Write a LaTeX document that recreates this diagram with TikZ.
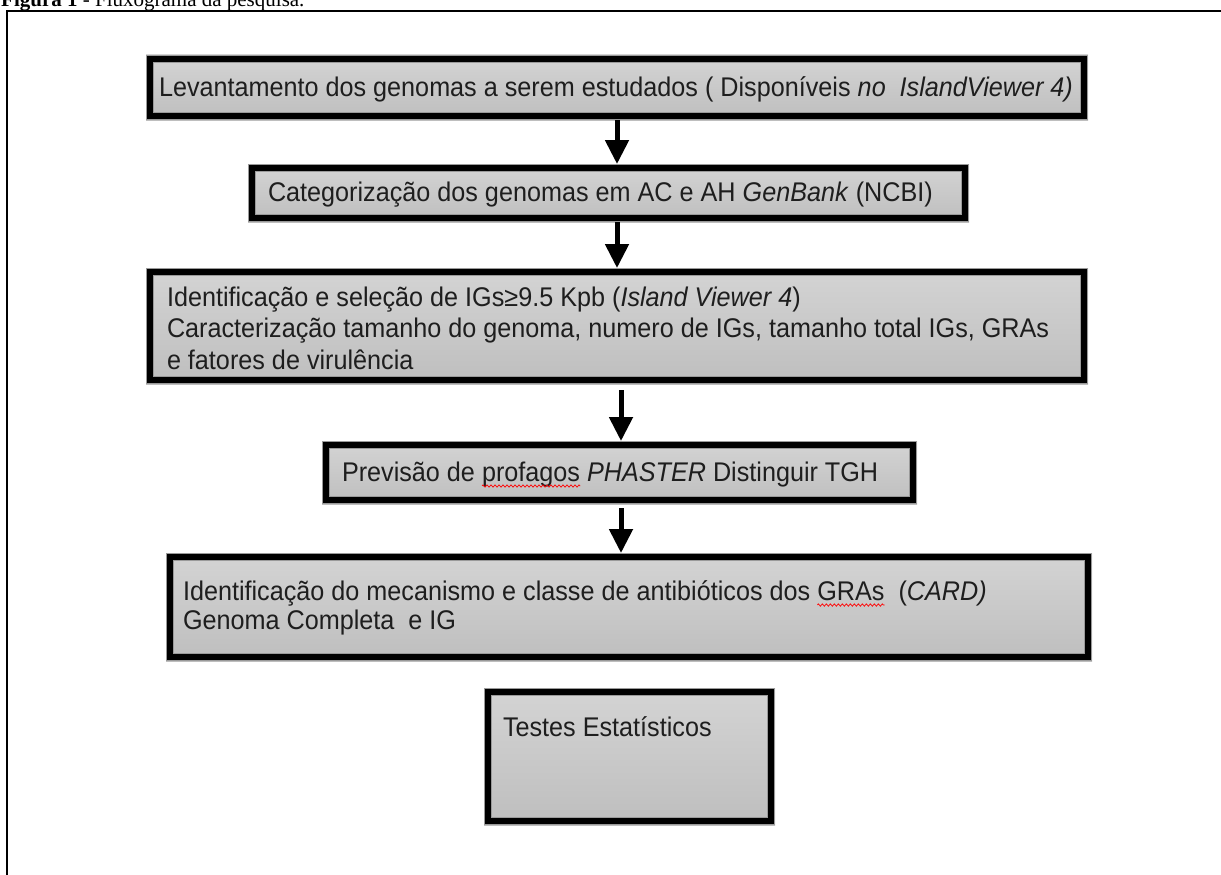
\documentclass[tikz,border=0pt]{standalone}
\usepackage{fontspec}
\setmainfont{Liberation Sans}
\newfontfamily\boxfont[FakeStretch=0.933]{Liberation Sans}
\newfontfamily\titlefont{Liberation Serif}
\usetikzlibrary{arrows.meta,calc,decorations.pathmorphing}
\definecolor{boxtop}{HTML}{D4D4D4}
\definecolor{boxbot}{HTML}{BEBEBE}
\definecolor{txtc}{HTML}{1E1E1E}
\definecolor{edgegray}{HTML}{9A9A9A}
\tikzset{
  boxfill/.style={inner sep=0pt, outer sep=0pt, anchor=north west, top color=boxtop, bottom color=boxbot},
  bord/.style={draw=edgegray, double=black, double distance=6.6pt, line width=0.7pt},
  txt/.style={anchor=base west, inner sep=0pt, outer sep=0pt, text=txtc, font=\boxfont\fontsize{27}{31.5}\selectfont},
  arr/.style={line width=5pt, draw=black, -{Triangle[width=23pt,length=24pt]}},
  frame/.style={line width=2pt, draw=black},
  spell/.style={draw=red, line width=0.7pt, decorate, decoration={zigzag, amplitude=1.2pt, segment length=4pt}}
}
\begin{document}
\begin{tikzpicture}[x=1pt,y=-1pt]
\useasboundingbox (0,0) rectangle (1221,875);
% title (cut at the top of the page)
\node[anchor=base west, inner sep=0pt] (title) at (1,7) {\titlefont\fontsize{21}{25}\selectfont\textbf{Figura 1} - Fluxograma da pesquisa.};
% frame
\coordinate (fr1) at (7,877);
\coordinate (fr2) at (7,11);
\coordinate (fr3) at (1223,11);
\draw[frame] (fr1) -- (fr2) -- (fr3);
% boxes
\node[boxfill, minimum width=942pt, minimum height=65pt] (b1) at (146,55) {};
\node[boxfill, minimum width=721pt, minimum height=58pt] (b2) at (248,164) {};
\node[boxfill, minimum width=942pt, minimum height=116pt] (b3) at (146,268) {};
\node[boxfill, minimum width=595pt, minimum height=63pt] (b4) at (322,441) {};
\node[boxfill, minimum width=926pt, minimum height=108pt] (b5) at (166,553) {};
\node[boxfill, minimum width=291pt, minimum height=137pt] (b6) at (484,688) {};
% texts
\node[txt] (t1) at (159,96) {Levantamento dos genomas a serem estudados ( Disponíveis \textit{no\ \ IslandViewer 4)}};
\node[txt] (t2) at (268,201) {Categorização dos genomas em AC e AH \textit{GenBank} (NCBI)};
\node[txt] (t3a) at (167,306) {Identificação e seleção de IGs≥9.5 Kpb (\textit{Island Viewer 4})};
\node[txt] (t3b) at (167,337) {Caracterização tamanho do genoma, numero de IGs, tamanho total IGs, GRAs};
\node[txt] (t3c) at (167,369) {e fatores de virulência};
\node[txt] (t4a) at (342,481) {Previsão de};
\node[txt] (t4b) at ($(t4a.base east)+(7,0)$) {profagos};
\node[txt] (t4c) at ($(t4b.base east)+(7,0)$) {\textit{PHASTER} Distinguir TGH};
\node[txt] (t5a) at (183,600) {Identificação do mecanismo e classe de antibióticos dos};
\node[txt] (t5b) at ($(t5a.base east)+(7,0)$) {GRAs};
\node[txt] (t5c) at ($(t5b.base east)+(14,0)$) {(\textit{CARD)}};
\node[txt] (t5d) at (183,629) {Genoma Completa\ \ e IG};
\node[txt] (t6) at (503,736) {Testes Estatísticos};
% spelling marks
\draw[spell] ($(t4b.base west)+(0,5)$) -- ($(t4b.base east)+(0,5)$);
\draw[spell] ($(t5b.base west)+(0,5)$) -- ($(t5b.base east)+(0,5)$);
% borders (drawn over the texts)
\foreach \b in {b1,b2,b3,b4,b5,b6}{
  \draw[bord] ($(\b.north west)+(4,4)$) rectangle ($(\b.south east)+(-4,-4)$);
}
% arrows
\coordinate (ax1) at (617,0);
\coordinate (ax3) at (621,0);
\draw[arr] (b1.south -| ax1) -- (b2.north -| ax1);
\draw[arr] (b2.south -| ax1) -- (b3.north -| ax1);
\draw[arr, shorten <=6pt] (b3.south -| ax3) -- (b4.north -| ax3);
\draw[arr, shorten <=4pt] (b4.south -| ax3) -- (b5.north -| ax3);
\end{tikzpicture}
\end{document}
